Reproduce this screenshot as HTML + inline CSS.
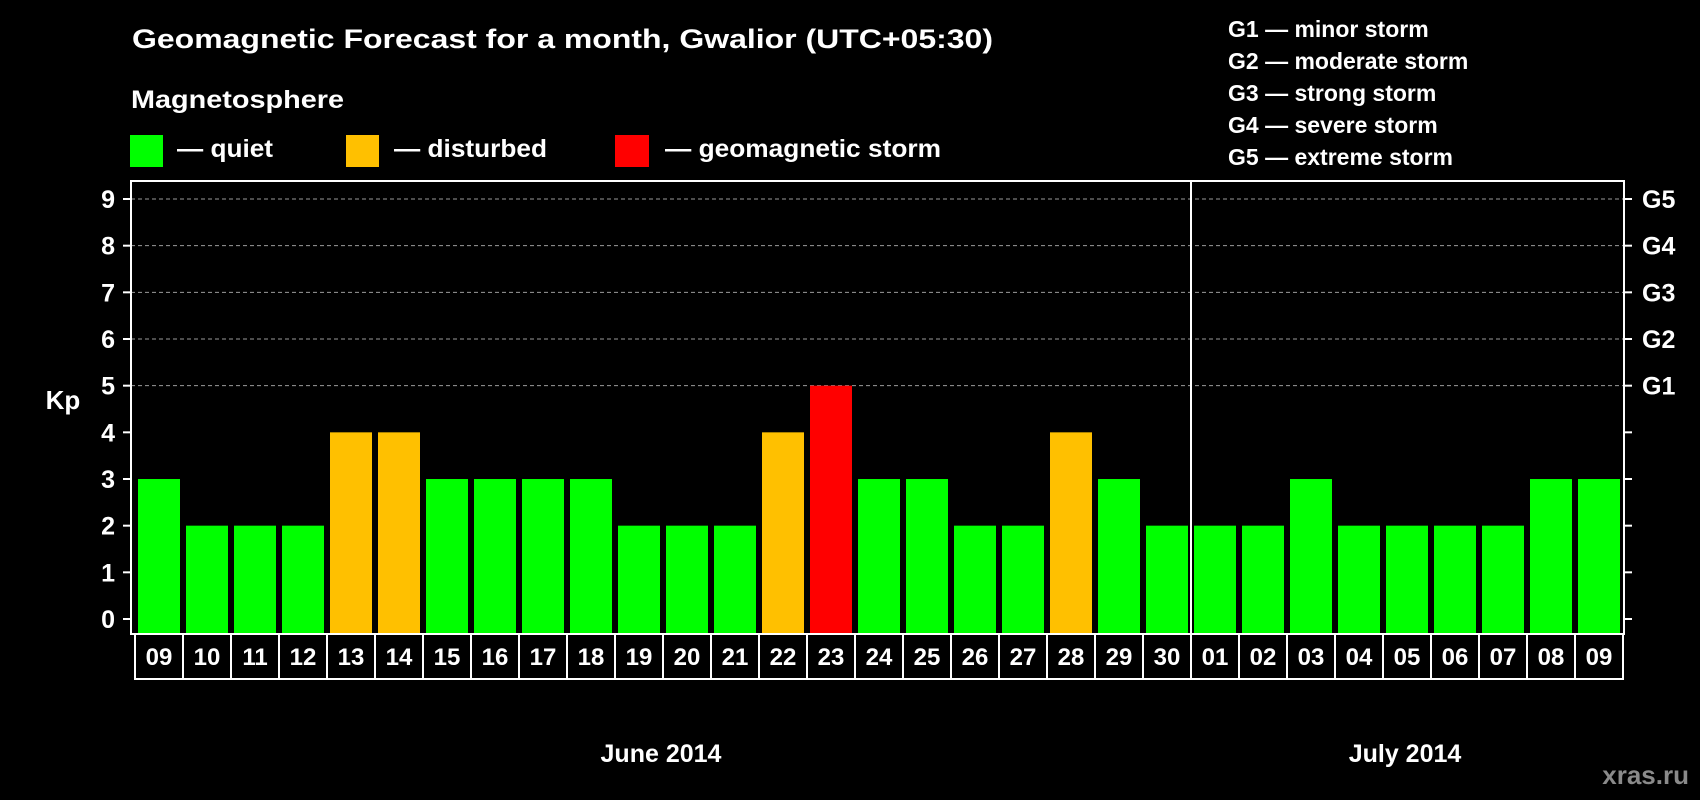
<!DOCTYPE html>
<html><head><meta charset="utf-8"><style>
html,body{margin:0;padding:0;background:#000;}
svg{display:block;font-family:"Liberation Sans",Arial,sans-serif;font-weight:bold;}
</style></head><body>
<svg id="chart" width="1700" height="800" viewBox="0 0 1700 800" xmlns="http://www.w3.org/2000/svg">
<rect width="1700" height="800" fill="#000"/>
<text x="132" y="48" font-size="27" fill="#fff" textLength="861" lengthAdjust="spacingAndGlyphs">Geomagnetic Forecast for a month, Gwalior (UTC+05:30)</text>
<text x="131" y="108" font-size="25" fill="#fff" textLength="213" lengthAdjust="spacingAndGlyphs">Magnetosphere</text>
<g>
<rect x="130" y="135" width="33" height="32" fill="#00ff00"/>
<text x="177" y="157" font-size="25" fill="#fff" textLength="96" lengthAdjust="spacingAndGlyphs">— quiet</text>
</g>
<g>
<rect x="346" y="135" width="33" height="32" fill="#ffc000"/>
<text x="394" y="157" font-size="25" fill="#fff" textLength="153" lengthAdjust="spacingAndGlyphs">— disturbed</text>
</g>
<g>
<rect x="615" y="135" width="34" height="32" fill="#ff0000"/>
<text x="665" y="157" font-size="25" fill="#fff" textLength="276" lengthAdjust="spacingAndGlyphs">— geomagnetic storm</text>
</g>
<g font-size="23" fill="#fff">
<text x="1228" y="37">G1 — minor storm</text>
<text x="1228" y="69">G2 — moderate storm</text>
<text x="1228" y="101">G3 — strong storm</text>
<text x="1228" y="133">G4 — severe storm</text>
<text x="1228" y="165">G5 — extreme storm</text>
</g>
<g id="grid"></g>
<g id="bars"></g>
<g id="axes"></g>
<text x="63" y="409" font-size="26" fill="#fff" text-anchor="middle">Kp</text>
<text x="661" y="762" font-size="25" fill="#fff" text-anchor="middle">June 2014</text>
<text x="1405" y="762" font-size="25" fill="#fff" text-anchor="middle">July 2014</text>
<text x="1689" y="784" font-size="26" fill="#8a8a8a" text-anchor="end">xras.ru</text>
</svg>
<script>
const days = ["09","10","11","12","13","14","15","16","17","18","19","20","21","22","23","24","25","26","27","28","29","30","01","02","03","04","05","06","07","08","09"];
const kpValues = [3,2,2,2,4,4,3,3,3,3,2,2,2,4,5,3,3,2,2,4,3,2,2,2,3,2,2,2,2,3,3];
const yTicks = [0,1,2,3,4,5,6,7,8,9];
const gLabels = ["G1","G2","G3","G4","G5"];
const gLevels = [5,6,7,8,9];
const monthBreakIndex = 22;

const SVGNS = "http://www.w3.org/2000/svg";
const plotLeft = 135, slotW = 48, plotTop = 181, plotBottom = 634;
const plotRight = plotLeft + slotW * days.length;
const yZero = 619, yUnit = (619 - 199) / 9;
const yScale = v => yZero - v * yUnit;
const xScale = i => plotLeft + i * slotW;
function mk(tag, attrs, parent) {
  const e = document.createElementNS(SVGNS, tag);
  for (const k in attrs) e.setAttribute(k, attrs[k]);
  parent.appendChild(e);
  return e;
}
const gridG = document.getElementById("grid");
const barsG = document.getElementById("bars");
const axesG = document.getElementById("axes");

yTicks.forEach(t => {
  if (t >= 5) {
    const g = mk("line", {x1: plotLeft - 4, x2: plotRight + 1, y1: yScale(t), y2: yScale(t), stroke: "#9a9a9a", "stroke-width": 1, "stroke-dasharray": "4 3"}, gridG);
    
    
  }
  const tk = mk("line", {x1: plotLeft - 12, x2: plotLeft - 4, y1: yScale(t), y2: yScale(t), stroke: "#fff", "stroke-width": 2}, axesG);
  
  
  const lb = mk("text", {x: 115, y: yScale(t) + 9, "font-size": 25, fill: "#fff", "text-anchor": "end"}, axesG);
  lb.textContent = t;
  
  
  const rt = mk("line", {x1: plotRight + 1, x2: plotRight + 9, y1: yScale(t), y2: yScale(t), stroke: "#fff", "stroke-width": 2}, axesG);
  
  
});
gLabels.forEach((g, i) => {
  const lb = mk("text", {x: 1642, y: yScale(gLevels[i]) + 9, "font-size": 25, fill: "#fff"}, axesG);
  lb.textContent = g;
  
  
});

kpValues.forEach((v, i) => {
  const color = v >= 5 ? "#ff0000" : (v >= 4 ? "#ffc000" : "#00ff00");
  const b = mk("rect", {x: xScale(i) + 3, y: yScale(v), width: slotW - 6, height: plotBottom - yScale(v), fill: color}, barsG);
  
  
  const box = mk("rect", {x: xScale(i), y: plotBottom, width: slotW, height: 45, fill: "none", stroke: "#fff", "stroke-width": 2}, axesG);
  
  
  const t = mk("text", {x: xScale(i) + slotW / 2, y: plotBottom + 31, "font-size": 24, fill: "#fff", "text-anchor": "middle"}, axesG);
  t.textContent = days[i];
  
  
});

const frame = mk("rect", {x: plotLeft - 4, y: plotTop, width: plotRight - plotLeft + 5, height: plotBottom - plotTop, fill: "none", stroke: "#fff", "stroke-width": 2}, axesG);


const divider = mk("line", {x1: xScale(monthBreakIndex), x2: xScale(monthBreakIndex), y1: plotTop, y2: plotBottom + 45, stroke: "#fff", "stroke-width": 2}, axesG);


</script>
</body></html>
